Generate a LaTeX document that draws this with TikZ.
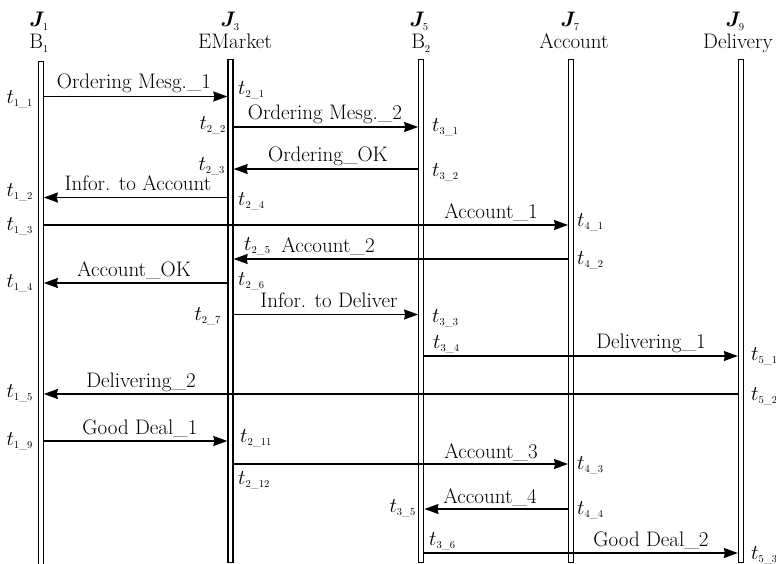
\RequirePackage{fix-cm}
\documentclass[tikz,border=0pt]{standalone}
\usepackage{bm}
\usetikzlibrary{arrows.meta}
\newcommand{\smallsub}[1]{\mbox{\fontsize{10.5}{11}\selectfont #1}}
\newcommand{\tlab}[2]{$t_{\smallsub{#1\_#2}}$}
\begin{document}
\begin{tikzpicture}[x=1pt,y=-1pt,
  every node/.style={font=\fontsize{21}{24}\selectfont, text=black},
  life/.style={draw, line width=1.3pt, minimum width=5pt, inner sep=0pt, anchor=north},
  msg/.style={line width=1.3pt, -{Stealth[length=14pt,width=10pt,inset=1pt]}},
  lbl/.style={anchor=base, inner sep=0pt},
  tl/.style={anchor=west, inner sep=0pt},
  tr/.style={anchor=east, inner sep=0pt},
  hd/.style={anchor=base, inner sep=0pt}]
\useasboundingbox (0,0) rectangle (776,564);

% headers
\node[hd] (j1) at (39,27) {$\bm{J}_{\smallsub{1}}$};
\node[hd] (h1) at (39,49) {B$_{\smallsub{1}}$};
\node[hd] (j3) at (230,27) {$\bm{J}_{\smallsub{3}}$};
\node[hd] (h3) at (235,49) {EMarket};
\node[hd] (j5) at (419,27) {$\bm{J}_{\smallsub{5}}$};
\node[hd] (h5) at (421,49) {B$_{\smallsub{2}}$};
\node[hd] (j7) at (570,27) {$\bm{J}_{\smallsub{7}}$};
\node[hd] (h7) at (574,49) {Account};
\node[hd] (j9) at (735,27) {$\bm{J}_{\smallsub{9}}$};
\node[hd] (h9) at (738,49) {Delivery};

% lifelines
\node[life, minimum height=515pt] (L1) at (40.7,61) {};
\node[life, minimum height=503pt] (L3) at (230.5,59) {};
\node[life, minimum height=503pt] (L5) at (421.3,59) {};
\node[life, minimum height=503pt] (L7) at (571.2,59) {};
\node[life, minimum height=503pt] (L9) at (741,59) {};

% rows
\coordinate (r1) at (0,96.5);
\coordinate (r2) at (0,127);
\coordinate (r3) at (0,169);
\coordinate (r4) at (0,197.5);
\coordinate (r5) at (0,225);
\coordinate (r6) at (0,259);
\coordinate (r7) at (0,283);
\coordinate (r8) at (0,314.5);
\coordinate (r9) at (0,356);
\coordinate (r10) at (0,394);
\coordinate (r11) at (0,441);
\coordinate (r12) at (0,464);
\coordinate (r13) at (0,509);
\coordinate (r14) at (0,553);

% messages
\draw[msg] (L1.east |- r1) -- (L3.west |- r1);
\draw[msg] (L3.east |- r2) -- (L5.west |- r2);
\draw[msg] (L5.west |- r3) -- (L3.east |- r3);
\draw[msg] (L3.west |- r4) -- (L1.east |- r4);
\draw[msg] (L1.east |- r5) -- (L7.west |- r5);
\draw[msg] (L7.west |- r6) -- (L3.east |- r6);
\draw[msg] (L3.west |- r7) -- (L1.east |- r7);
\draw[msg] (L3.east |- r8) -- (L5.west |- r8);
\draw[msg] (L5.east |- r9) -- (L9.west |- r9);
\draw[msg] (L9.west |- r10) -- (L1.east |- r10);
\draw[msg] (L1.east |- r11) -- (L3.west |- r11);
\draw[msg] (L3.east |- r12) -- (L7.west |- r12);
\draw[msg] (L7.west |- r13) -- (L5.east |- r13);
\draw[msg] (L5.east |- r14) -- (L9.west |- r14);

% message labels
\node[lbl] (m1) at (134,88.5) {Ordering Mesg.\_1};
\node[lbl] (m2) at (325,120) {Ordering Mesg.\_2};
\node[lbl] (m3) at (328,162) {Ordering\_OK};
\node[lbl] (m4) at (138,190.5) {Infor. to Account};
\node[lbl] (m5) at (491,218.5) {Account\_1};
\node[lbl] (m6) at (328,252.5) {Account\_2};
\node[lbl] (m7) at (134,276) {Account\_OK};
\node[lbl] (m8) at (329,307.5) {Infor. to Deliver};
\node[lbl] (m9) at (651,348) {Delivering\_1};
\node[lbl] (m10) at (141,387) {Delivering\_2};
\node[lbl] (m11) at (140,434) {Good Deal\_1};
\node[lbl] (m12) at (491,458) {Account\_3};
\node[lbl] (m13) at (490,503) {Account\_4};
\node[lbl] (m14) at (651,546) {Good Deal\_2};

% time labels
\node[tr] (t11) at (33,99) {\tlab{1}{1}};
\node[tl] (t21) at (238,90) {\tlab{2}{1}};
\node[tr] (t22) at (226,125) {\tlab{2}{2}};
\node[tl] (t31) at (432,127) {\tlab{3}{1}};
\node[tr] (t23) at (225,166) {\tlab{2}{3}};
\node[tl] (t32) at (432,172) {\tlab{3}{2}};
\node[tr] (t12) at (33,192) {\tlab{1}{2}};
\node[tl] (t24) at (238,201) {\tlab{2}{4}};
\node[tr] (t13) at (33,226) {\tlab{1}{3}};
\node[tl] (t41) at (577,222) {\tlab{4}{1}};
\node[tl] (t25) at (244,246) {\tlab{2}{5}};
\node[tl] (t42) at (577,260) {\tlab{4}{2}};
\node[tr] (t14) at (33,283) {\tlab{1}{4}};
\node[tl] (t26) at (238,281) {\tlab{2}{6}};
\node[tr] (t27) at (221,316) {\tlab{2}{7}};
\node[tl] (t33) at (432,318) {\tlab{3}{3}};
\node[tl] (t34) at (433,344) {\tlab{3}{4}};
\node[tl] (t51) at (751,356) {\tlab{5}{1}};
\node[tr] (t15) at (33,393) {\tlab{1}{5}};
\node[tl] (t52) at (751,396) {\tlab{5}{2}};
\node[tr] (t19) at (33,441) {\tlab{1}{9}};
\node[tl] (t211) at (240,438) {\tlab{2}{11}};
\node[tl] (t212) at (238,480) {\tlab{2}{12}};
\node[tl] (t43) at (577,465) {\tlab{4}{3}};
\node[tr] (t35) at (416,508) {\tlab{3}{5}};
\node[tl] (t44) at (577,510) {\tlab{4}{4}};
\node[tl] (t36) at (429,541) {\tlab{3}{6}};
\node[tl] (t53) at (751,555) {\tlab{5}{3}};
\end{tikzpicture}
\end{document}
